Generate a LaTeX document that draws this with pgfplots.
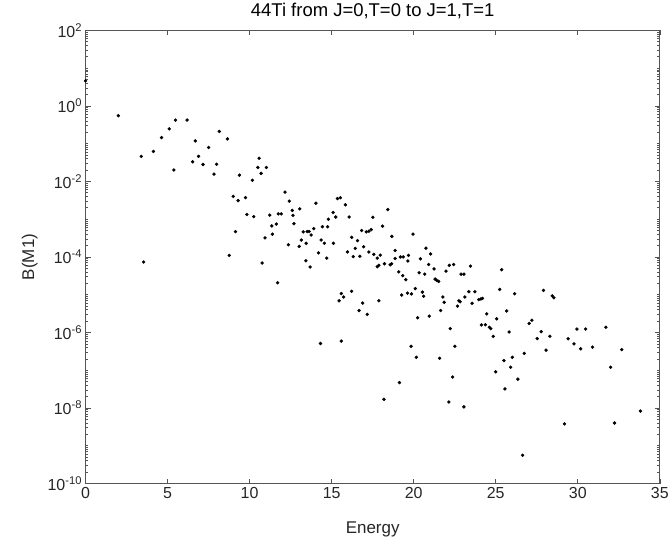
\documentclass[border=0pt]{standalone}
\usepackage{pgfplots}
\pgfplotsset{compat=1.18}
\usepackage{fontspec}
\setmainfont{Liberation Sans}
\usetikzlibrary{calc}
\definecolor{axgray}{RGB}{38,38,38}
\definecolor{linegray}{RGB}{85,85,85}
\pgfplotstableread{
x y
0.00 4.6
2.00 0.55
3.40 0.046
3.54 7.3e-5
4.14 0.062
4.63 0.145
5.10 0.245
5.38 0.020
5.48 0.42
6.19 0.42
6.53 0.033
6.69 0.118
6.89 0.046
7.16 0.028
7.50 0.079
7.83 0.0155
7.99 0.0285
8.15 0.21
8.65 0.133
8.76 1.1e-4
9.00 0.0040
9.14 4.7e-4
9.30 0.0031
9.38 0.0146
9.75 0.0037
9.83 0.00133
10.17 0.0107
10.25 0.00117
10.50 0.0234
10.58 0.041
10.70 0.0163
10.76 6.9e-5
10.94 3.2e-4
11.02 0.0234
11.23 0.00128
11.35 6.6e-4
11.39 4.0e-4
11.63 7.4e-4
11.71 2.07e-5
11.75 0.00138
11.93 0.00138
12.16 0.0052
12.42 0.0030
14.04 0.00265
13.06 0.00187
12.60 0.0017
12.64 0.00126
12.70 7.6e-4
13.27 4.6e-4
13.51 4.7e-4
13.63 4.7e-4
13.75 3.8e-4
13.91 5.6e-4
14.44 6.3e-4
12.36 2.1e-4
13.15 2.8e-4
13.45 2.3e-4
14.36 2.8e-4
13.02 1.9e-4
14.20 1.28e-4
13.43 7.9e-5
13.69 5.4e-5
14.32 5.1e-7
14.75 6.3e-4
14.80 0.0010
15.09 0.0015
15.25 0.00114
15.35 0.0035
15.53 0.0037
15.84 0.0024
16.06 0.00114
14.56 2.3e-4
14.70 9.3e-5
15.11 2.3e-4
15.96 1.36e-4
16.22 3.3e-4
16.32 1.02e-4
16.44 1.68e-4
16.58 2.7e-4
16.72 1.04e-4
16.83 5.0e-4
16.95 1.86e-4
17.11 4.6e-4
17.27 4.8e-4
17.41 5.3e-4
17.27 1.35e-4
17.51 1.12e-3
17.57 1.17e-4
17.78 9.3e-5
17.96 1.12e-4
17.78 5.5e-5
17.88 6.0e-5
18.10 6.5e-4
18.22 6.6e-5
18.42 1.8e-3
18.57 6.2e-5
18.65 6.6e-5
18.67 3.5e-4
18.87 1.48e-4
18.87 9.1e-5
19.09 4.0e-5
19.19 1.0e-4
19.36 1.0e-4
19.33 3.2e-5
19.52 2.5e-5
19.27 9.8e-6
19.68 1.1e-4
19.64 7.8e-5
19.96 4.0e-4
19.62 1.1e-5
19.86 1.05e-5
20.10 1.45e-5
20.24 2.45e-6
20.33 3.8e-5
20.41 8.9e-5
20.53 1.17e-5
20.61 9.1e-6
20.67 3.5e-5
20.75 1.7e-4
20.91 6.3e-5
21.03 1.2e-4
20.95 2.7e-6
21.24 4.8e-5
21.30 2.6e-5
21.40 2.4e-5
21.52 2.25e-5
21.64 3.8e-6
21.78 8.7e-6
21.86 6.3e-6
21.97 4.2e-5
22.17 6.0e-5
22.43 6.3e-5
22.23 1.26e-6
22.67 5.0e-6
22.75 6.9e-6
22.83 6.5e-6
22.89 3.5e-5
23.06 3.5e-5
23.12 8.7e-6
21.58 2.07e-7
19.84 4.3e-7
20.16 2.2e-7
22.51 4.3e-7
22.37 6.6e-8
19.13 4.7e-8
15.59 5.9e-7
15.45 6.9e-6
15.59 1.07e-5
15.73 8.7e-6
16.22 1.23e-5
16.67 3.8e-6
16.89 6.0e-6
17.17 3.0e-6
17.88 6.9e-6
23.46 5.7e-5
25.36 4.6e-5
25.24 1.38e-5
23.36 1.2e-5
23.73 1.2e-5
23.97 7.4e-6
24.10 7.7e-6
24.19 8.0e-6
23.56 5.9e-6
22.15 1.44e-8
23.06 1.07e-8
24.45 3.1e-6
25.67 3.7e-6
25.06 2.3e-6
24.13 1.58e-6
24.37 1.6e-6
24.61 1.37e-6
24.70 1.26e-6
24.85 7.9e-7
25.82 1.03e-6
25.50 1.8e-7
25.91 1.2e-7
26.01 2.2e-7
25.00 9.1e-8
25.56 3.2e-8
26.15 1.06e-5
26.35 5.8e-8
26.74 2.8e-7
26.64 5.6e-10
27.04 1.73e-6
27.20 2.1e-6
27.53 6.9e-7
27.77 1.05e-6
27.91 1.3e-5
28.07 3.4e-7
28.30 7.9e-7
28.44 9.3e-6
28.54 8.3e-6
29.19 3.8e-9
29.41 6.8e-7
29.77 5.0e-7
29.95 1.23e-6
30.18 3.7e-7
30.48 1.23e-6
30.90 4.1e-7
31.71 1.37e-6
32.00 1.2e-7
32.24 4.0e-9
32.68 3.5e-7
33.82 8.3e-9
18.19 1.7e-8
}\datatable
\begin{document}
\begin{tikzpicture}
\begin{axis}[
  scale only axis, width=575.3pt, height=454pt,
  ymode=log, log basis y=10,
  xmin=0, xmax=35, ymin=1e-10, ymax=1e2,
  xtick={0,5,...,35},
  ytick={1e-10,1e-8,1e-6,1e-4,1e-2,1,1e2},
  yticklabels={10\textsuperscript{-10},10\textsuperscript{-8},10\textsuperscript{-6},10\textsuperscript{-4},10\textsuperscript{-2},10\textsuperscript{0},10\textsuperscript{2}},
  minor ytick={2e-10,3e-10,4e-10,5e-10,6e-10,7e-10,8e-10,9e-10,
    1e-9,2e-9,3e-9,4e-9,5e-9,6e-9,7e-9,8e-9,9e-9,
    2e-8,3e-8,4e-8,5e-8,6e-8,7e-8,8e-8,9e-8,
    1e-7,2e-7,3e-7,4e-7,5e-7,6e-7,7e-7,8e-7,9e-7,
    2e-6,3e-6,4e-6,5e-6,6e-6,7e-6,8e-6,9e-6,
    1e-5,2e-5,3e-5,4e-5,5e-5,6e-5,7e-5,8e-5,9e-5,
    2e-4,3e-4,4e-4,5e-4,6e-4,7e-4,8e-4,9e-4,
    1e-3,2e-3,3e-3,4e-3,5e-3,6e-3,7e-3,8e-3,9e-3,
    2e-2,3e-2,4e-2,5e-2,6e-2,7e-2,8e-2,9e-2,
    1e-1,2e-1,3e-1,4e-1,5e-1,6e-1,7e-1,8e-1,9e-1,
    2,3,4,5,6,7,8,9,10,20,30,40,50,60,70,80,90},
  tick align=inside,
  major tick length=5pt, minor tick length=2.5pt,
  axis line style={linegray, line width=0.7pt},
  every tick/.style={linegray, line width=0.6pt},
  tick label style={font=\fontsize{16}{18}\selectfont, text=axgray},
  /pgf/number format/assume math mode=true,
  xlabel={Energy},
  ylabel={B(M1)},
  xlabel style={font=\fontsize{17}{19}\selectfont, text=axgray, at={(axis description cs:0.5,-0.101)}, anchor=center},
  ylabel style={font=\fontsize{17}{19}\selectfont, text=axgray, at={(axis description cs:-0.097,0.5)}, anchor=center, rotate=0},
  title={44Ti from J=0,T=0 to J=1,T=1},
  title style={font=\fontsize{18.5}{20}\selectfont, text=black, at={(axis description cs:0.5,1.029)}, anchor=center},
]
\addplot[only marks, mark=*, mark size=1.5pt, black] table[x=x, y=y] {\datatable};
\end{axis}
\path ($(current axis.south west)+(-85.7pt,-64pt)$) rectangle ($(current axis.north east)+(11pt,24pt)$);
\end{tikzpicture}
\end{document}
